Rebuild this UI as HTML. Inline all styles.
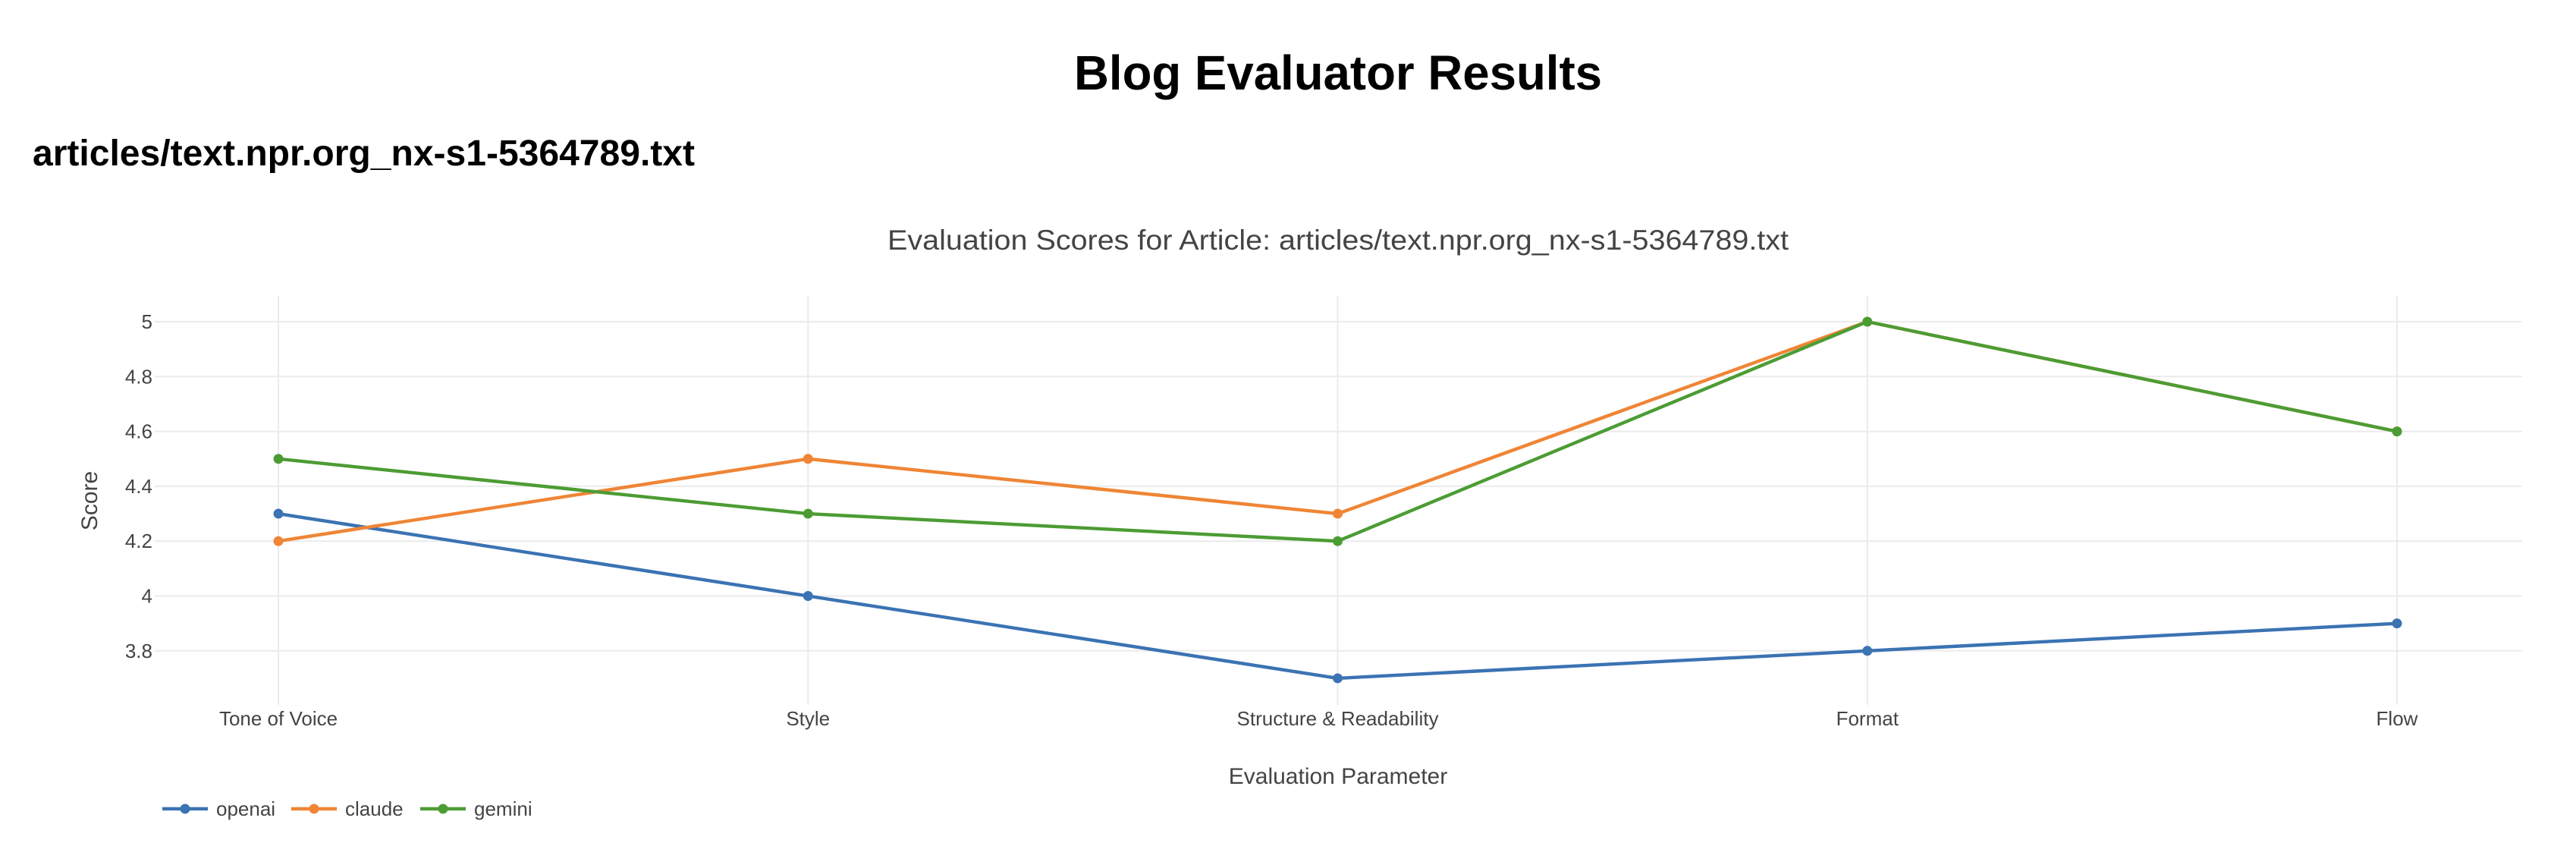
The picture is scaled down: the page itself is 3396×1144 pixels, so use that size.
<!DOCTYPE html>
<html><head><meta charset="utf-8"><style>
html,body{margin:0;padding:0;background:#fff;width:3396px;height:1144px;overflow:hidden}
svg{display:block}
</style></head><body>
<svg id="chart" width="3396" height="1144" viewBox="0 0 3396 1144" xmlns="http://www.w3.org/2000/svg">
<text x="1764" y="118" text-anchor="middle" font-family="Liberation Sans, Arial, sans-serif" font-weight="bold" font-size="64" textLength="696" lengthAdjust="spacingAndGlyphs" fill="#000">Blog Evaluator Results</text>
<text x="43" y="218" font-family="Liberation Sans, Arial, sans-serif" font-weight="bold" font-size="48" textLength="873" lengthAdjust="spacingAndGlyphs" fill="#000">articles/text.npr.org_nx-s1-5364789.txt</text>
<text x="1764" y="329" text-anchor="middle" font-family="Liberation Sans, Arial, sans-serif" font-size="37" textLength="1188" lengthAdjust="spacingAndGlyphs" fill="#444">Evaluation Scores for Article: articles/text.npr.org_nx-s1-5364789.txt</text>
<g id="grid"></g>
<g id="series"></g>
<g id="axes"></g>
<text x="1764" y="1033" text-anchor="middle" font-family="Liberation Sans, Arial, sans-serif" font-size="30" fill="#444">Evaluation Parameter</text>
<text x="0" y="0" transform="translate(128,660) rotate(-90)" text-anchor="middle" font-family="Liberation Sans, Arial, sans-serif" font-size="30" fill="#444">Score</text>
<g id="legend"></g>
</svg>
<script>
const categories = ["Tone of Voice","Style","Structure & Readability","Format","Flow"];
const openaiScores = [4.3,4.0,3.7,3.8,3.9];
const claudeScores = [4.2,4.5,4.3,5.0,4.6];
const geminiScores = [4.5,4.3,4.2,5.0,4.6];
const seriesNames = ["openai","claude","gemini"];
const yTicks = [3.8,4.0,4.2,4.4,4.6,4.8,5.0];
const yTickLabels = ["3.8","4","4.2","4.4","4.6","4.8","5"];
const colors = ["#3b73b3","#ef8535","#4c9c34"];
const allSeries = [openaiScores, claudeScores, geminiScores];

const NS = "http://www.w3.org/2000/svg";
const plotL = 204, plotR = 3325, plotT = 390, plotB = 929;
function xPos(i){ return 367 + i * (3160 - 367) / (categories.length - 1); }
function yPos(v){ return 424 + (5 - v) * 361.5; }
function mk(tag, attrs, parent){ const e = document.createElementNS(NS, tag); for (const k in attrs) e.setAttribute(k, attrs[k]); parent.appendChild(e); return e; }

const grid = document.getElementById('grid');
const axes = document.getElementById('axes');
yTicks.forEach((t, i) => {
  const ln = mk('line', {x1: plotL, x2: plotR, y1: yPos(t), y2: yPos(t), stroke: '#ebebeb', 'stroke-width': 2}, grid);
  
  
  const tx = mk('text', {x: 201, y: yPos(t) + 9, 'text-anchor': 'end', 'font-family': 'Liberation Sans, Arial, sans-serif', 'font-size': 26, fill: '#444'}, axes);
  tx.textContent = yTickLabels[i];
  
  
});
categories.forEach((c, i) => {
  const ln = mk('line', {x1: xPos(i), x2: xPos(i), y1: plotT, y2: plotB, stroke: '#ebebeb', 'stroke-width': 2}, grid);
  
  
  const tx = mk('text', {x: xPos(i), y: 956, 'text-anchor': 'middle', 'font-family': 'Liberation Sans, Arial, sans-serif', 'font-size': 26, fill: '#444'}, axes);
  tx.textContent = c;
  
  
});

const sg = document.getElementById('series');
allSeries.forEach((vals, s) => {
  const g = mk('g', {}, sg);
  
  
  const pts = vals.map((v, i) => xPos(i) + ',' + yPos(v)).join(' ');
  const pl = mk('polyline', {points: pts, fill: 'none', stroke: colors[s], 'stroke-width': 4.4, 'stroke-linejoin': 'round'}, g);
  
  
  vals.forEach((v, i) => {
    const c = mk('circle', {cx: xPos(i), cy: yPos(v), r: 6.5, fill: colors[s]}, g);
    
    
  });
});

const lg = document.getElementById('legend');
const legendX = [214, 384, 554];
seriesNames.forEach((n, s) => {
  const g = mk('g', {}, lg);
  
  
  const x = legendX[s];
  mk('line', {x1: x, x2: x + 60, y1: 1066, y2: 1066, stroke: colors[s], 'stroke-width': 4.4}, g);
  mk('circle', {cx: x + 30, cy: 1066, r: 6.5, fill: colors[s]}, g);
  const t = mk('text', {x: x + 71, y: 1075, 'font-family': 'Liberation Sans, Arial, sans-serif', 'font-size': 26, fill: '#444'}, g);
  t.textContent = n;
});
</script>
</body></html>
